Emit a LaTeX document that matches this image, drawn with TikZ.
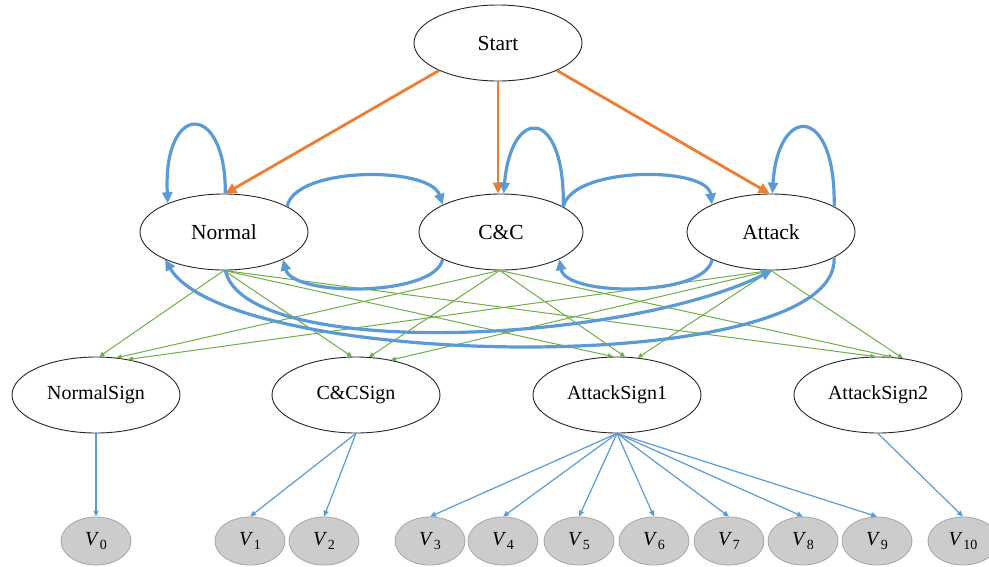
\documentclass[tikz,border=0pt]{standalone}
\usepackage{fontspec}
\setmainfont{Liberation Serif}
\usetikzlibrary{shapes.geometric,arrows.meta}
\definecolor{arrorange}{HTML}{ED7D31}
\definecolor{arrblue}{HTML}{5B9BD5}
\definecolor{arrgreen}{HTML}{70AD47}
\definecolor{vfill}{HTML}{CCCCCC}
\definecolor{vedge}{HTML}{A6A6A6}
% observation label: italic V with an upright subscript index
\newcommand\vlabel[1]{\textit{V}\kern0.6pt\raisebox{-4pt}{\fontsize{14}{14}\selectfont #1}}

\begin{document}
\begin{tikzpicture}[x=1pt,y=-1pt,
  state/.style={ellipse,draw=black!85,line width=0.9pt,fill=white,
    minimum width=168pt,minimum height=76pt,inner sep=0pt,
    font=\fontsize{21.5}{21.5}\selectfont},
  signnode/.style={state,font=\fontsize{20}{20}\selectfont},
  obsnode/.style={ellipse,draw=vedge,line width=0.8pt,fill=vfill,
    minimum width=70pt,minimum height=48pt,inner sep=0pt,
    font=\fontsize{20}{20}\selectfont},
  startarr/.style={draw=arrorange,line width=2.8pt,-{Triangle[length=11pt,width=10pt]}},
  looparr/.style={draw=arrblue,line width=3.2pt,-{Triangle[length=11pt,width=10pt]}},
  emitarr/.style={draw=arrgreen,line width=1pt,-{Triangle[length=5pt,width=4.5pt]}},
  obsarr/.style={draw=arrblue,line width=1.2pt,-{Triangle[length=6pt,width=5pt]}}]

\useasboundingbox (0,0) rectangle (989,566);

% hidden states
\node[state] (S) at (498,43) {Start};
\node[state] (N) at (224,232) {Normal};
\node[state,minimum width=164pt] (C) at (501,232) {C\&C};
\node[state] (A) at (771,232) {Attack};

% signatures
\node[signnode] (NS) at (96,395) {NormalSign};
\node[signnode] (CS) at (356,395) {C\&CSign};
\node[signnode] (AS1) at (617,395) {AttackSign1};
\node[signnode] (AS2) at (878,395) {AttackSign2};

% observations
\foreach \i/\x in {0/96,1/250,2/324,3/430,4/503,5/579,6/654,7/729,8/803,9/877,10/963}
  \node[obsnode] (V\i) at (\x,541) {\vlabel{\i}};

% emissions
\draw[emitarr] (N.south) -- (NS.85.5);
\draw[emitarr] (N.south) -- (CS.96);
\draw[emitarr] (N.south) -- (AS1.96);
\draw[emitarr] (N.south) -- (AS2.94.5);
\draw[emitarr] (C.-92) -- (NS.61.5);
\draw[emitarr] (C.-92) -- (CS.71);
\draw[emitarr] (C.-92) -- (AS1.78);
\draw[emitarr] (C.-92) -- (AS2.68);
\draw[emitarr] (A.south) -- (NS.48.7);
\draw[emitarr] (A.south) -- (CS.45.6);
\draw[emitarr] (A.south) -- (AS1.61.5);
\draw[emitarr] (A.south) -- (AS2.56.6);

% initial transitions
\draw[startarr] (S.205) -- (N.88);
\draw[startarr] (S.south) -- (S.south |- C.north);
\draw[startarr] (S.-25) -- (A.92);

% state transitions
\draw[looparr] (N.88) .. controls (226,101) and (163,101) .. (N.153);
\draw[looparr] (C.22) .. controls (565,106) and (511,106) .. (C.86);
\draw[looparr] (A.22) .. controls (836,104) and (778,104) .. (A.88);
\draw[looparr] (N.22) .. controls (295,166) and (430,166) .. (C.155);
\draw[looparr] (C.22) .. controls (572,166) and (707,166) .. (A.155);
\draw[looparr] (C.205) .. controls (435,297) and (293,297) .. (N.-25);
\draw[looparr] (A.205) .. controls (706,297) and (566,297) .. (C.-25);
\draw[looparr] (A.-22) .. controls (840,380) and (230,370) .. (N.205);
\draw[looparr] (N.-88) .. controls (245,360) and (620,345) .. (A.-88);

% observation links
\draw[obsarr] (NS.south) -- (V0.north);
\draw[obsarr] (CS.south) -- (V1.north);
\draw[obsarr] (CS.south) -- (V2.north);
\foreach \i in {3,...,9}
  \draw[obsarr] (AS1.south) -- (V\i.north);
\draw[obsarr] (AS2.south) -- (V10.north);
\end{tikzpicture}
\end{document}
